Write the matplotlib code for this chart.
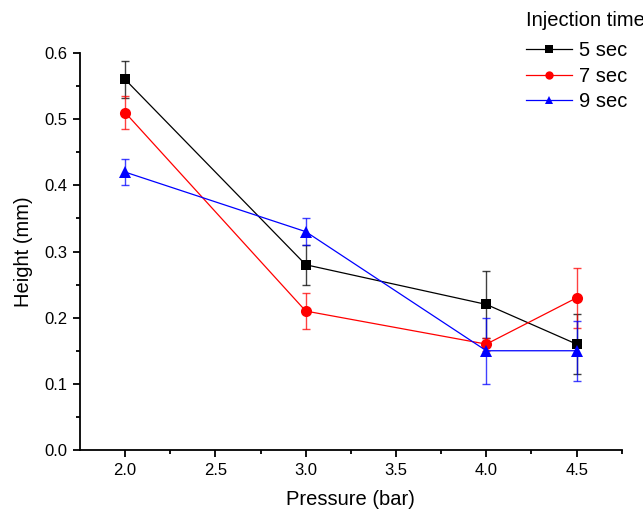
import matplotlib
matplotlib.use("Agg")
import matplotlib.pyplot as plt

plt.rcParams['font.family'] = ['Liberation Sans', 'DejaVu Sans']

pressure = [2.0, 3.0, 4.0, 4.5]

h_5s = [0.56, 0.28, 0.22, 0.16]
e_5s = [0.028, 0.03, 0.05, 0.045]

h_7s = [0.51, 0.21, 0.16, 0.23]
e_7s = [0.025, 0.027, 0.01, 0.045]

h_9s = [0.42, 0.33, 0.15, 0.15]
e_9s = [0.02, 0.02, 0.05, 0.045]

labels = ["5 sec", "7 sec", "9 sec"]
xticks = [2.0, 2.5, 3.0, 3.5, 4.0, 4.5]
yticks = [0.0, 0.1, 0.2, 0.3, 0.4, 0.5, 0.6]

fig = plt.figure(figsize=(6.43, 5.15), dpi=100)
ax = fig.add_axes([0.1244, 0.1262, 0.8426, 0.7709])

series = [
    (h_5s, e_5s, "black", "s", 7),
    (h_7s, e_7s, "red", "o", 8),
    (h_9s, e_9s, "blue", "^", 8.5),
]
handles = []
for (h, e, c, m, ms), lab in zip(series, labels):
    ax.errorbar(pressure, h, yerr=e, fmt="none", ecolor=c, elinewidth=1.0,
                capsize=3.2, capthick=1.0, alpha=0.75, zorder=2)
    ln, = ax.plot(pressure, h, color=c, lw=0.9, marker=m, ms=ms,
                  markeredgewidth=0, label=lab, zorder=3)
    handles.append(ln)

ax.set_xlim(1.75, 4.75)
ax.set_ylim(0.0, 0.6)
ax.set_xticks(xticks)
ax.set_xticklabels([f"{v:.1f}" for v in xticks])
ax.set_yticks(yticks)
ax.set_yticklabels([f"{v:.1f}" for v in yticks])
ax.set_xticks([2.25, 2.75, 3.25, 3.75, 4.25, 4.75], minor=True)
ax.set_yticks([0.05, 0.15, 0.25, 0.35, 0.45, 0.55], minor=True)

for side in ("top", "right"):
    ax.spines[side].set_visible(False)
for side in ("left", "bottom"):
    ax.spines[side].set_linewidth(1.3)

ax.tick_params(which="major", direction="out", length=5, width=1.3,
               labelsize=12, pad=4)
ax.tick_params(which="minor", direction="out", length=3, width=1.3)

ax.set_xlabel("Pressure (bar)", fontsize=14.5, labelpad=9)
ax.set_ylabel("Height (mm)", fontsize=14.5, labelpad=8)

leg = fig.legend(handles=handles, labels=labels, title="Injection time",
                 loc="upper left", bbox_to_anchor=(0.797, 1.004),
                 frameon=False, fontsize=14.5, title_fontsize=14.5,
                 handlelength=2.3, handletextpad=0.35, labelspacing=0.33,
                 borderpad=0.15, markerscale=0.75)
leg._legend_box.align = "left"
# extra gap between the legend title and its entries
leg._legend_box.sep = 8.0

fig.savefig("out.png", dpi=100)
